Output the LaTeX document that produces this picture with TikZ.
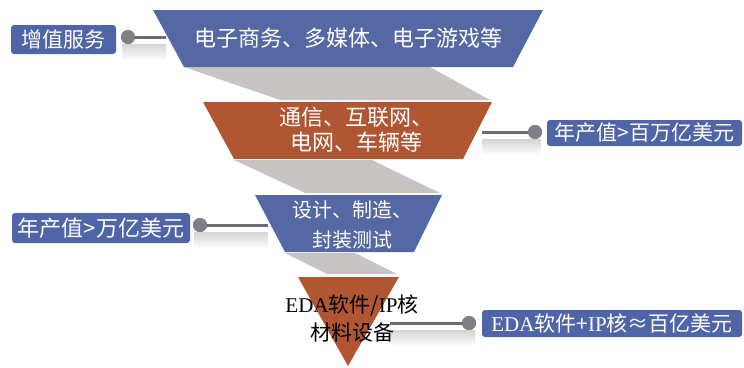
\documentclass[tikz,border=0pt]{standalone}
\usepackage{fontspec}
\newfontfamily\cjk{Noto Sans CJK SC}
\newfontfamily\lat{Liberation Serif}
\definecolor{bandblue}{RGB}{86,104,164}
\definecolor{labblue}{RGB}{80,100,168}
\definecolor{bandorange}{RGB}{176,86,50}
\definecolor{backgray}{RGB}{200,196,196}
\definecolor{dotgray}{RGB}{128,126,134}
\definecolor{linegray}{RGB}{108,108,114}
\tikzset{
  labelbox/.style={fill=labblue, rounded corners=3pt, text=white, inner sep=0pt,
    font=\cjk\fontsize{21}{24}\selectfont},
  bandtext/.style={text=white, align=center, inner sep=0pt},
  dot/.style={circle, fill=dotgray, minimum size=14pt, inner sep=0pt},
  conn/.style={draw=linegray, line width=3pt},
  shadowbar/.style={top color=black!28, bottom color=white, draw=none, opacity=0.6},
}
\begin{document}
\begin{tikzpicture}[x=1pt,y=-1pt]
\useasboundingbox (0,0) rectangle (744,367);
% back gray walls
\fill[backgray] (184,67) -- (430,67) -- (490,100) -- (280,100) -- cycle;
\fill[backgray] (234,160) -- (372,160) -- (440,193) -- (305,193) -- cycle;
\fill[backgray] (285,253) -- (355,253) -- (397,274) -- (327,274) -- cycle;
% bands
\fill[bandblue] (153,10) -- (543,10) -- (513,67) -- (184,67) -- cycle;
\fill[bandorange] (203,102) -- (492,102) -- (463,159) -- (234,159) -- cycle;
\fill[bandblue] (255,195) -- (442,195) -- (414,252) -- (285,252) -- cycle;
\fill[bandorange] (298,277) -- (399,277) -- (348,366) -- cycle;
% shadows of connectors
\shade[shadowbar] (122,44) rectangle (166,60);
\shade[shadowbar] (482,139) rectangle (541,155);
\shade[shadowbar] (194,232) rectangle (268,248);
\shade[shadowbar] (390,330) rectangle (475,346);
% band texts
\node[bandtext, font=\cjk\fontsize{22}{25}\selectfont] (t1) at (348,38) {电子商务、多媒体、电子游戏等};
\node[bandtext, font=\cjk\fontsize{22}{25}\selectfont] (t2) at (356,130) {通信、互联网、\\电网、车辆等};
\node[bandtext, font=\cjk\fontsize{20}{30}\selectfont] (t3) at (352,225) {设计、制造、\\封装测试};
% labels
\node[labelbox, minimum width=105pt, minimum height=29pt] (l1) at (63.5,39.5) {增值服务};
\node[labelbox, minimum width=195pt, minimum height=26pt] (r1) at (644.5,133) {年产值>百万亿美元};
\node[labelbox, minimum width=178pt, minimum height=30pt, font=\cjk\fontsize{22}{24}\selectfont] (l2) at (101,228) {年产值>万亿美元};
\node[labelbox, minimum width=260pt, minimum height=27pt] (r3) at (612,323.5) {{\lat EDA}软件+{\lat IP}核≈百亿美元};
% dots
\node[dot] (d1) at (128,37) {};
\node[dot] (d2) at (535,132) {};
\node[dot] (d3) at (200,225) {};
\node[dot] (d4) at (469,323) {};
% connector ends
\coordinate (e1) at (166,38);
\coordinate (e2) at (482,133);
\coordinate (e3) at (268,228);
\coordinate (e4) at (390,323);
\draw[conn] (d1.center) -- (d1.center -| e1);
\draw[conn] (d2.center) -- (d2.center -| e2);
\draw[conn] (d3.center) -- (d3.center -| e3);
\draw[conn] (d4.center) -- (e4);
\node[dot] at (d1) {};
\node[dot] at (d2) {};
\node[dot] at (d3) {};
\node[dot] at (d4) {};
% triangle text
\node[align=center, inner sep=0pt, text=black, font=\cjk\fontsize{21}{28}\selectfont] (t4) at (352,319) {{\lat EDA}软件/{\lat IP}核\\材料设备};
\end{tikzpicture}
\end{document}
